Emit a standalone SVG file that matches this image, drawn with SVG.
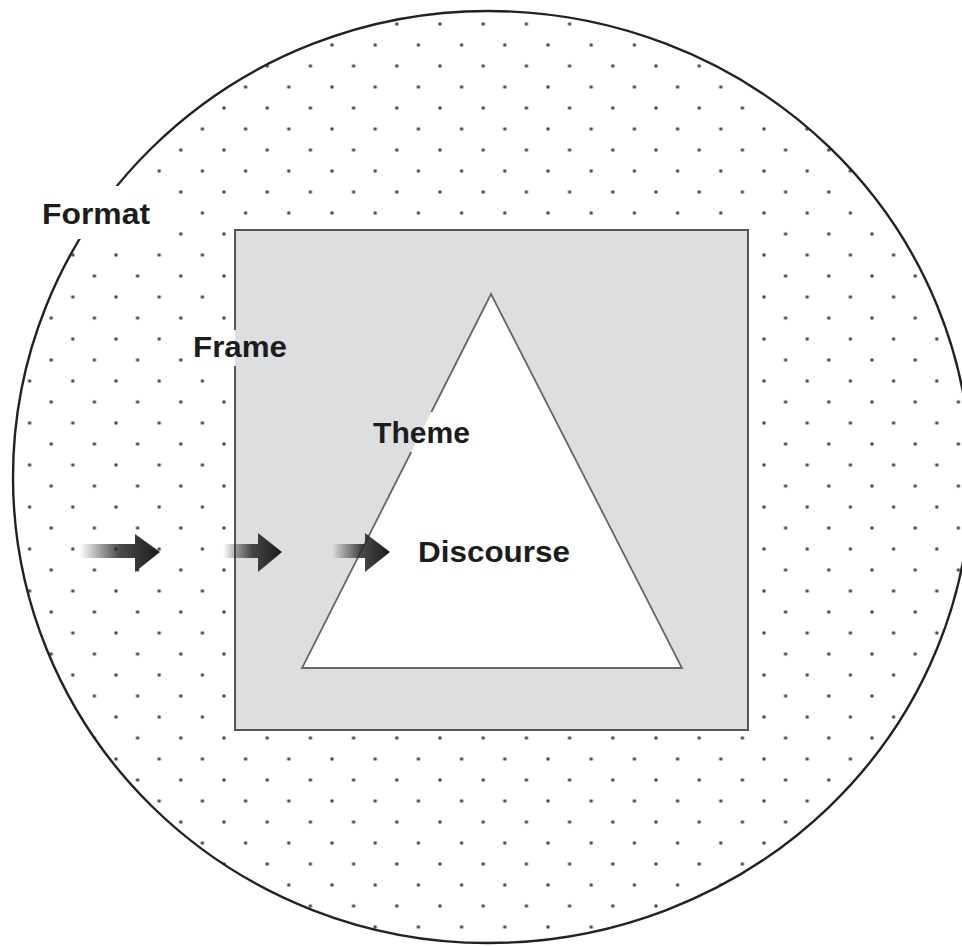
<svg xmlns="http://www.w3.org/2000/svg" width="962" height="946" viewBox="0 0 962 946">
<style>
.lbl{font-family:"Liberation Sans",Arial,sans-serif;font-weight:bold;font-size:29px;fill:#1c1c1c}
.edge{fill:none;stroke:#555;stroke-width:2}
.tri{fill:none;stroke:#666;stroke-width:1.8}
</style>
<defs>
<pattern id="dots" patternUnits="userSpaceOnUse" x="-2.8" y="13.5" width="43.2" height="42">
<circle cx="10.8" cy="10.5" r="1.8" fill="#4a4a4a"/>
<circle cx="32.4" cy="31.5" r="1.8" fill="#4a4a4a"/>
</pattern>
<linearGradient id="fade" x1="0" y1="0" x2="1" y2="0">
<stop offset="0" stop-color="#222" stop-opacity="0"/>
<stop offset="0.5" stop-color="#2a2a2a" stop-opacity="0.85"/>
<stop offset="1" stop-color="#1a1a1a" stop-opacity="1"/>
</linearGradient>
</defs>
<rect width="962" height="946" fill="#fff"/>
<g id="format">
<path d="M13,477 A475,466 0 0 1 488,11 A483,466 0 0 1 971,477 A483,466 0 0 1 488,943 A475,466 0 0 1 13,477 Z" fill="url(#dots)" stroke="#222" stroke-width="2.4"/>
<rect x="30" y="186" width="132" height="53" fill="#fff"/>
<text class="lbl" x="42" y="224" textLength="108" lengthAdjust="spacingAndGlyphs">Format</text>
</g>
<g id="frame">
<rect x="235" y="230" width="513" height="500" fill="#dcdee0"/>
<path class="edge" d="M235,330 V230 H748 V730 H235 V366"/>
<rect x="188" y="332" width="47" height="32" fill="#fff"/>
<text class="lbl" x="193" y="357" textLength="94" lengthAdjust="spacingAndGlyphs">Frame</text>
</g>
<g id="theme">
<polygon points="491,294 302,668 682,668" fill="#fff"/>
<path class="tri" d="M431.4,412 L491,294 L682,668 L302,668 L411.2,452"/>
<text class="lbl" x="373" y="443" textLength="97" lengthAdjust="spacingAndGlyphs">Theme</text>
</g>
<g id="discourse">
<text class="lbl" x="418" y="562" textLength="152" lengthAdjust="spacingAndGlyphs">Discourse</text>
</g>
<g id="connectors">
<polygon points="80,544 135,544 135,534 160,552 135,572 135,558 80,558" fill="url(#fade)"/>
<polygon points="223,544 258,544 258,533 282,552 258,572 258,558 223,558" fill="url(#fade)"/>
<polygon points="332,544 365,544 365,533 390,552 365,572 365,558 332,558" fill="url(#fade)"/>
</g>
</svg>
